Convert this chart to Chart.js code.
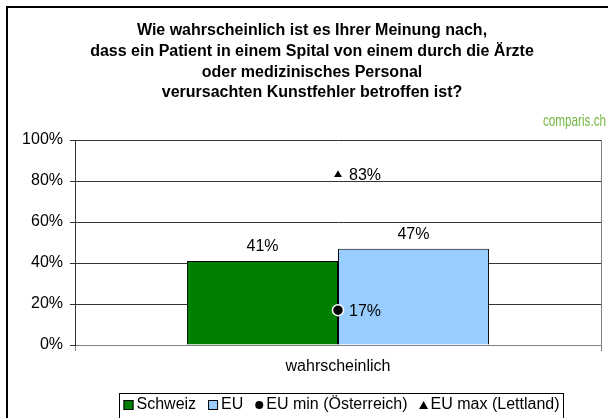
<!DOCTYPE html>
<html><head><meta charset="utf-8">
<script src="https://cdn.jsdelivr.net/npm/chart.js@4/dist/chart.umd.min.js"></script>
<style>html,body{margin:0;padding:0;background:#fff;}canvas{display:block}</style>
</head><body>
<canvas id="c" width="608" height="418"></canvas>
<script>
const titleLines = [
  'Wie wahrscheinlich ist es Ihrer Meinung nach,',
  'dass ein Patient in einem Spital von einem durch die Ärzte',
  'oder medizinisches Personal',
  'verursachten Kunstfehler betroffen ist?'
];
const categories = ['wahrscheinlich'];
const seriesNames = ['Schweiz', 'EU', 'EU min (Österreich)', 'EU max (Lettland)'];
const schweiz = [41];
const eu = [47];
const euMin = [17];
const euMax = [83];
const yTickStep = 20;
const yMax = 100;
const logoText = 'comparis.ch';

const FONT = '"Liberation Sans", Arial, sans-serif';
const colors = ['#008000', '#99ccff', '#000000', '#000000'];

function drawMarker(ctx, kind, x, y, fill) {
  ctx.save();
  if (kind === 'rect') {
    ctx.fillStyle = fill; ctx.fillRect(x, y - 5, 10, 10);
    ctx.strokeStyle = '#000'; ctx.lineWidth = 1; ctx.strokeRect(x + 0.5, y - 4.5, 9, 9);
  } else if (kind === 'circle') {
    ctx.fillStyle = '#000'; ctx.beginPath(); ctx.arc(x + 4, y, 4, 0, Math.PI * 2); ctx.fill();
  } else {
    ctx.fillStyle = '#000'; ctx.beginPath();
    ctx.moveTo(x + 4, y - 4); ctx.lineTo(x + 8.5, y + 4); ctx.lineTo(x - 0.5, y + 4); ctx.closePath(); ctx.fill();
  }
  ctx.restore();
}

const decor = {
  id: 'decor',
  beforeDraw(chart) {
    const ctx = chart.ctx;
    ctx.save();
    ctx.fillStyle = '#fff'; ctx.fillRect(0, 0, chart.width, chart.height);
    ctx.strokeStyle = '#000'; ctx.lineWidth = 2;
    ctx.strokeRect(7, 7, 640, 440);
    ctx.restore();
  },
  afterDatasetsDraw(chart) {
    const ctx = chart.ctx;
    ctx.save();
    ctx.font = '16px ' + FONT; ctx.fillStyle = '#000';
    chart.data.datasets.forEach((ds, i) => {
      const meta = chart.getDatasetMeta(i);
      meta.data.forEach((el, j) => {
        const txt = ds.data[j] + '%';
        if (ds.type === 'bar') {
          ctx.textAlign = 'center'; ctx.textBaseline = 'middle';
          ctx.fillText(txt, el.x, el.y - 14);
        } else {
          ctx.textAlign = 'left'; ctx.textBaseline = 'middle';
          ctx.fillText(txt, el.x + 11, el.y + 1);
        }
      });
    });
    ctx.restore();
  },
  afterDraw(chart) {
    const ctx = chart.ctx;
    ctx.save();
    // title
    ctx.font = 'bold 16px ' + FONT; ctx.fillStyle = '#000';
    ctx.textAlign = 'center'; ctx.textBaseline = 'middle';
    const ty = [31, 52, 73, 93];
    titleLines.forEach((t, i) => ctx.fillText(t, 312, ty[i]));
    // logo
    ctx.font = '17px ' + FONT; ctx.fillStyle = '#74b842';
    ctx.textAlign = 'left'; ctx.textBaseline = 'alphabetic';
    const lw = ctx.measureText(logoText).width;
    ctx.save(); ctx.translate(543, 126); ctx.scale(63 / lw, 1);
    ctx.fillText(logoText, 0, 0); ctx.restore();
    // legend
    const bx = 119.5, by = 393.5, bw = 444;
    ctx.strokeStyle = '#000'; ctx.lineWidth = 1;
    ctx.strokeRect(bx, by, bw, 40);
    ctx.font = '16px ' + FONT; ctx.fillStyle = '#000'; ctx.textAlign = 'left'; ctx.textBaseline = 'middle';
    const kinds = ['rect', 'rect', 'circle', 'triangle'];
    const mw = [10, 10, 8, 8];
    let total = 0;
    seriesNames.forEach((n, i) => { total += mw[i] + 3 + ctx.measureText(n).width; });
    const pad = 4;
    const gap = (bw - 2 * pad - total) / (seriesNames.length - 1);
    let x = bx + pad;
    const ly = 405;
    seriesNames.forEach((n, i) => {
      drawMarker(ctx, kinds[i], x, ly, colors[i]);
      x += mw[i] + 3;
      ctx.fillStyle = '#000';
      ctx.fillText(n, x, ly);
      x += ctx.measureText(n).width + gap;
    });
    ctx.restore();
  }
};

new Chart(document.getElementById('c'), {
  type: 'bar',
  data: {
    labels: categories,
    datasets: [
      { type: 'bar', label: seriesNames[0], data: schweiz, backgroundColor: colors[0], borderColor: '#000', borderWidth: 1, barPercentage: 1, categoryPercentage: 0.574, order: 3 },
      { type: 'bar', label: seriesNames[1], data: eu, backgroundColor: colors[1], borderColor: '#000', borderWidth: 1, barPercentage: 1, categoryPercentage: 0.574, order: 3 },
      { type: 'line', label: seriesNames[2], data: euMin, showLine: false, pointStyle: 'circle', pointRadius: 5.5, pointBackgroundColor: '#000', pointBorderColor: '#fff', pointBorderWidth: 1.5, order: 1 },
      { type: 'line', label: seriesNames[3], data: euMax, showLine: false, pointStyle: 'triangle', pointRadius: 4.5, pointBackgroundColor: '#000', pointBorderColor: '#000', pointBorderWidth: 0, order: 0 }
    ]
  },
  options: {
    responsive: false,
    animation: false,
    devicePixelRatio: 1,
    layout: { padding: { top: 140, right: 1, left: 0, bottom: 0 } },
    plugins: { legend: { display: false }, title: { display: false }, tooltip: { enabled: false } },
    scales: {
      x: {
        offset: true,
        grid: { offset: true, drawOnChartArea: true, color: '#808080', tickLength: 6 },
        border: { color: '#808080' },
        ticks: { font: { family: FONT, size: 16 }, color: '#000', padding: 6 },
        afterFit(s) { s.height = 73; }
      },
      y: {
        min: 0, max: yMax,
        ticks: { stepSize: yTickStep, callback: v => v + '%', font: { family: FONT, size: 16 }, color: '#000', padding: 7 },
        grid: { color: '#333', tickLength: 5 },
        border: { color: '#333' },
        afterFit(s) { s.width = 75; }
      }
    }
  },
  plugins: [decor]
});
</script>
</body></html>
